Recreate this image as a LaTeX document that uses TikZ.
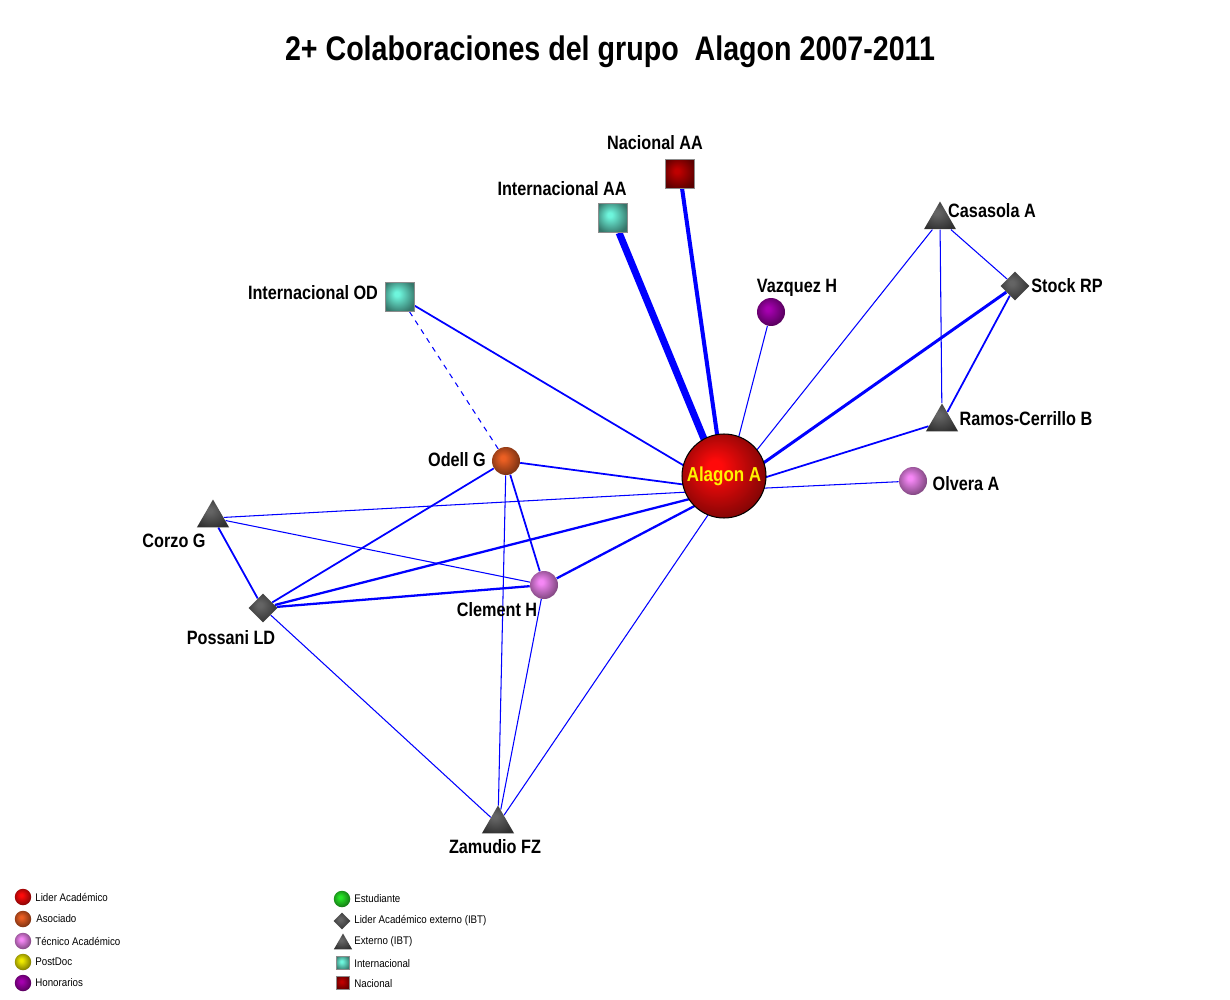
\documentclass[tikz,border=0pt]{standalone}
\usepackage{fontspec}
\setmainfont{Liberation Sans}
\newfontfamily\narrowfont{Liberation Sans}[FakeStretch=0.84]
\newfontfamily\legendfont{Liberation Sans}[FakeStretch=0.88]
\usetikzlibrary{shapes.geometric}

\pgfdeclarelayer{bg}
\pgfsetlayers{bg,main}

\definecolor{colLider}{RGB}{255,10,10}
\definecolor{colAsoc}{RGB}{235,95,35}
\definecolor{colTec}{RGB}{245,135,245}
\definecolor{colPost}{RGB}{240,235,0}
\definecolor{colHon}{RGB}{165,0,175}
\definecolor{colEst}{RGB}{40,230,40}
\definecolor{colExt}{RGB}{100,100,100}
\definecolor{colInt}{RGB}{110,245,220}
\definecolor{colNac}{RGB}{190,0,0}
\colorlet{sphcol}{red}

\pgfdeclareradialshading[sphcol]{sphere}{\pgfpoint{-6bp}{6bp}}{color(0bp)=(sphcol); color(4bp)=(sphcol); color(18bp)=(sphcol!72!black); color(30bp)=(sphcol!48!black); color(50bp)=(sphcol!48!black)}

\tikzset{
	sph/.style={shading=sphere, /utils/exec={\colorlet{sphcol}{#1}}},
	pers/.style={circle, minimum size=0.56cm, inner sep=0pt, sph=#1},
	ext/.style={regular polygon, regular polygon sides=3, minimum size=0.74cm, inner sep=0pt, sph=colExt},
	lidext/.style={diamond, minimum width=0.58cm, minimum height=0.58cm, inner sep=0pt, sph=colExt},
	inst/.style={rectangle, minimum size=0.58cm, inner sep=0pt, draw=black!45, line width=0.4pt, sph=#1},
	lbl/.style={font=\narrowfont\bfseries\fontsize{11}{12}\selectfont, inner sep=0pt},
	leg/.style={font=\legendfont\fontsize{6.3}{7}\selectfont, anchor=west, inner sep=0pt},
	c1/.style={draw=blue, line width=0.6pt},
	c2/.style={draw=blue, line width=1pt},
	c3/.style={draw=blue, line width=1.3pt},
	c4/.style={draw=blue, line width=1.7pt},
	c5/.style={draw=blue, line width=2.3pt},
	c6/.style={draw=blue, line width=4pt}
}

\begin{document}
\begin{tikzpicture}[x=0.02cm, y=-0.02cm]
	\useasboundingbox (0,0) rectangle (1230,1000);

	\node[font=\narrowfont\bfseries\fontsize{19.4}{22}\selectfont] (titulo) at (610,52) {2+ Colaboraciones del grupo\ \ Alagon 2007-2011};

	\node[pers=colLider, minimum size=1.68cm, draw=black, line width=0.6pt, text=yellow, font=\narrowfont\bfseries\fontsize{11.5}{12}\selectfont] (alagon) at (724,476) {Alagon A};
	\coordinate (alagonE) at (725,490);
	\node[inst=colNac] (nacAA) at (680,174) {};
	\node[inst=colInt] (intAA) at (613,218) {};
	\node[inst=colInt] (intOD) at (400,297) {};
	\node[pers=colHon] (vazquez) at (771,312) {};
	\node[ext] (casasola) at (940,220) {};
	\node[lidext] (stock) at (1015,286) {};
	\node[ext] (ramos) at (942,422) {};
	\node[pers=colTec] (olvera) at (913,481) {};
	\node[pers=colAsoc] (odell) at (506,461) {};
	\node[ext] (corzo) at (213,518) {};
	\node[lidext] (possani) at (263,608) {};
	\node[pers=colTec] (clement) at (544,585) {};
	\node[ext] (zamudio) at (498,824) {};

	\node[lbl] (tNacAA) at (655,143) {Nacional AA};
	\node[lbl] (tIntAA) at (562,189) {Internacional AA};
	\node[lbl] (tIntOD) at (313,293) {Internacional OD};
	\node[lbl] (tVazquez) at (797,288) {Vazquez H};
	\node[lbl] (tCasasola) at (992,211) {Casasola A};
	\node[lbl] (tStock) at (1067,286) {Stock RP};
	\node[lbl] (tRamos) at (1026,419) {Ramos-Cerrillo B};
	\node[lbl] (tOlvera) at (966,484) {Olvera A};
	\node[lbl] (tOdell) at (457,460) {Odell G};
	\node[lbl] (tCorzo) at (174,541) {Corzo G};
	\node[lbl] (tPossani) at (231,638) {Possani LD};
	\node[lbl] (tClement) at (497,610) {Clement H};
	\node[lbl] (tZamudio) at (495,847) {Zamudio FZ};

	\begin{pgfonlayer}{bg}
		\path [c6] (alagonE) edge (intAA);
		\path [c5] (alagonE) edge (nacAA);
		\path [c2] (alagonE) edge (intOD);
		\path [c1] (alagonE) edge (vazquez);
		\path [c1] (alagonE) edge (casasola);
		\path [c4] (alagonE) edge (stock);
		\path [c2] (alagonE) edge (ramos);
		\path [c1] (alagonE) edge (olvera);
		\path [c2] (alagonE) edge (odell);
		\path [c1] (alagonE) edge (corzo);
		\path [c3] (alagonE) edge (possani);
		\path [c3] (alagonE) edge (clement);
		\path [c1] (alagonE) edge (zamudio);
		\path [c1] (casasola) edge (stock);
		\path [c1] (casasola) edge (ramos);
		\path [c2] (stock) edge (ramos);
		\path [c1, dashed, dash pattern=on 3pt off 3pt] (odell) edge (intOD);
		\path [c2] (odell) edge (possani);
		\path [c2] (odell) edge (clement);
		\path [c1] (odell) edge (zamudio);
		\path [c2] (corzo) edge (possani);
		\path [c1] (corzo) edge (clement);
		\path [c3] (possani) edge (clement);
		\path [c1] (possani) edge (zamudio);
		\path [c1] (clement) edge (zamudio);
	\end{pgfonlayer}

	\node[pers=colLider, minimum size=0.33cm] (kLider) at (23,897) {};
	\node[pers=colAsoc, minimum size=0.33cm] (kAsoc) at (23,919) {};
	\node[pers=colTec, minimum size=0.33cm] (kTec) at (23,941) {};
	\node[pers=colPost, minimum size=0.33cm] (kPost) at (23,962) {};
	\node[pers=colHon, minimum size=0.33cm] (kHon) at (23,983) {};
	\node[pers=colEst, minimum size=0.33cm] (kEst) at (342,899) {};
	\node[lidext, minimum width=0.34cm, minimum height=0.34cm] (kLidExt) at (342,921) {};
	\node[ext, minimum size=0.42cm] (kExt) at (343,944) {};
	\node[inst=colInt, minimum size=0.27cm] (kInt) at (343,963) {};
	\node[inst=colNac, minimum size=0.27cm] (kNac) at (343,983) {};

	\node[leg] (lLider) at (35,897) {Lider Académico};
	\node[leg] (lAsoc) at (36,919) {Asociado};
	\node[leg] (lTec) at (35,941) {Técnico Académico};
	\node[leg] (lPost) at (35,962) {PostDoc};
	\node[leg] (lHon) at (35,983) {Honorarios};
	\node[leg] (lEst) at (354,899) {Estudiante};
	\node[leg] (lLidExt) at (354,921) {Lider Académico externo (IBT)};
	\node[leg] (lExt) at (354,942) {Externo (IBT)};
	\node[leg] (lInt) at (354,964) {Internacional};
	\node[leg] (lNac) at (354,984) {Nacional};
\end{tikzpicture}
\end{document}
